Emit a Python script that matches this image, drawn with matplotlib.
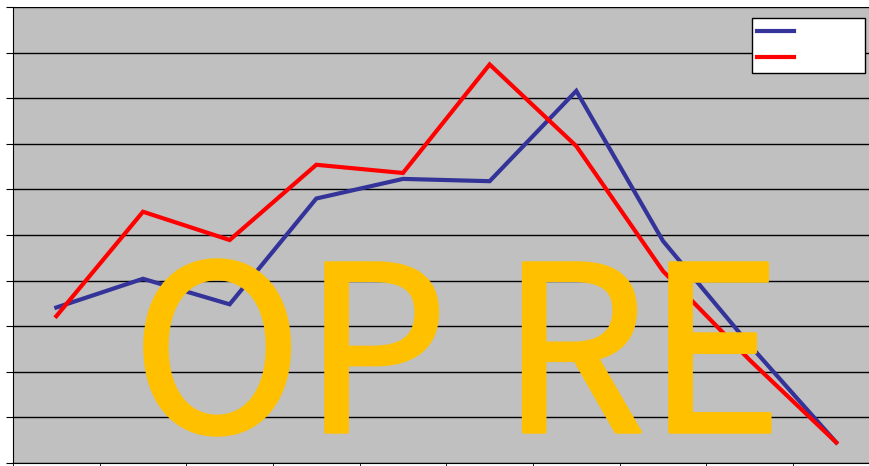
import matplotlib.pyplot as plt
import matplotlib.patheffects as pe
import numpy as np

categories = list(range(10))
blue_vals = [3.41, 4.04, 3.48, 5.80, 6.23, 6.18, 8.16, 4.87, 2.59, 0.45]
red_vals = [3.22, 5.51, 4.89, 6.54, 6.36, 8.74, 6.95, 4.21, 2.26, 0.45]

fig = plt.figure(figsize=(8.7, 4.66), dpi=100)
ax = fig.add_axes([13 / 870, 3 / 466, 866.6 / 870, 456 / 466])
ax.set_facecolor('#c0c0c0')

ax.plot(categories, blue_vals, color='#333399', lw=3, solid_joinstyle='miter')
ax.plot(categories, red_vals, color='#ff0000', lw=3, solid_joinstyle='miter')

ax.set_xlim(-0.5, 9.5)
ax.set_ylim(0, 10)
ax.set_yticks(np.arange(0, 11, 1))
ax.set_yticklabels([])
ax.set_xticks([])
ax.set_xticks(np.arange(-0.5, 10, 1), minor=True)
ax.tick_params(axis='x', which='minor', length=5, direction='out', color='black')
ax.tick_params(axis='y', length=5, direction='out', color='black')
ax.grid(axis='y', color='black', lw=1)
ax.set_axisbelow(True)
for s in ['top', 'right']:
    ax.spines[s].set_visible(False)
ax.spines['left'].set_color('black')
ax.spines['bottom'].set_color('black')

leg = ax.legend(['', ''], loc='upper left', mode='expand',
                bbox_to_anchor=(752 / 870, 394 / 466, 113 / 870, 54 / 466),
                bbox_transform=fig.transFigure, borderaxespad=0,
                fontsize=13, labelspacing=0.45, borderpad=0.3,
                handlelength=2.05, fancybox=False, framealpha=1,
                edgecolor='black', facecolor='white')
leg.get_frame().set_linewidth(1)

# big watermark text, thickened a little with a stroke
fig.text(457 / 870, (466 - 432) / 466, 'OP RE', fontsize=166,
         family=['Noto Sans CJK JP', 'DejaVu Sans'], color='#ffc000',
         ha='center', va='baseline',
         path_effects=[pe.withStroke(linewidth=2.5, foreground='#ffc000')])

fig.savefig('out.png', dpi=100)
